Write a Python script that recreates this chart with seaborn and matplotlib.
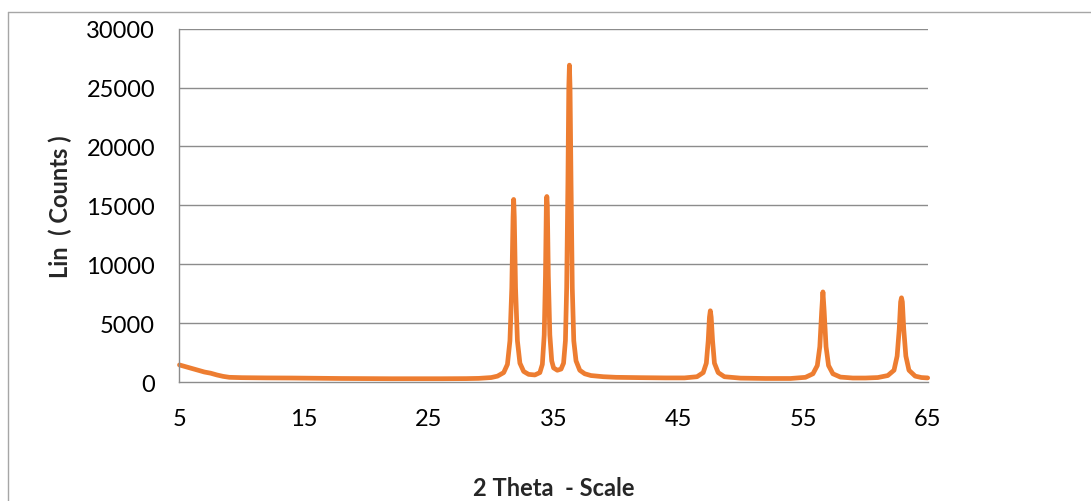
import matplotlib.pyplot as plt
import seaborn as sns
import pandas as pd
from matplotlib.lines import Line2D

sns.set_theme(style="white")
plt.rcParams['font.family'] = ['Lato', 'DejaVu Sans']

# XRD pattern: 2 theta (deg) and intensity (counts)
two_theta = [
    5.0, 5.5, 6.0, 6.5, 7.0, 7.5, 8.0, 8.5, 9.0, 10.0, 12.0, 14.0, 16.0, 18.0,
    20.0, 22.0, 24.0, 26.0, 28.0, 29.0, 30.0, 30.5, 31.0, 31.3, 31.5, 31.65,
    31.75, 31.8, 31.85, 31.95, 32.1, 32.3, 32.6, 33.0, 33.5, 33.9, 34.1, 34.25,
    34.35, 34.42, 34.46, 34.5, 34.58, 34.7, 34.85, 35.0, 35.3, 35.6, 35.8,
    35.95, 36.05, 36.15, 36.22, 36.27, 36.32, 36.4, 36.5, 36.62, 36.8, 37.1,
    37.5, 38.0, 39.0, 40.0, 42.0, 44.0, 45.5, 46.5, 47.0, 47.25, 47.4, 47.5,
    47.57, 47.64, 47.75, 47.9, 48.2, 48.7, 50.0, 52.0, 54.0, 55.2, 55.8, 56.15,
    56.35, 56.5, 56.6, 56.7, 56.85, 57.05, 57.4, 58.0, 59.0, 60.0, 61.0, 61.8,
    62.3, 62.55, 62.72, 62.83, 62.9, 62.97, 63.08, 63.25, 63.5, 64.0, 64.5, 65.0,
]
counts = [
    1450, 1300, 1150, 1000, 850, 750, 600, 480, 400, 370, 350, 340, 320, 300,
    290, 280, 280, 280, 290, 310, 380, 500, 800, 1500, 3500, 8000,
    14000, 15500, 14000, 8000, 3500, 1600, 900, 650, 600, 800, 1500, 4000,
    9000, 15000, 15750, 15000, 9000, 4000, 1800, 1200, 1000, 1100, 1600,
    3500, 8000, 17000, 25000, 26900, 25000, 17000, 8000, 3500, 1800, 1000,
    700, 550, 450, 400, 370, 350, 350, 450, 800, 1600, 3500, 5500,
    6050, 5500, 3500, 1600, 800, 450, 330, 300, 300, 400, 700, 1400,
    3000, 6000, 7650, 6000, 3000, 1400, 700, 420, 340, 340, 380, 550,
    1000, 2200, 4500, 6800, 7150, 6800, 4500, 2200, 1000, 500, 380, 350,
]
x_ticks = [5, 15, 25, 35, 45, 55, 65]
y_ticks = [0, 5000, 10000, 15000, 20000, 25000, 30000]

df = pd.DataFrame({'two_theta': two_theta, 'counts': counts})

fig = plt.figure(figsize=(10.91, 5.02), dpi=100)
ax = fig.add_axes([0.1645, 0.237, 0.8503 - 0.1645, 0.941 - 0.237])

sns.lineplot(data=df, x='two_theta', y='counts', color='#ED7D31',
             linewidth=3.4, ax=ax, clip_on=False)

ax.set_xlim(5, 65)
ax.set_ylim(0, 30000)
ax.set_xticks(x_ticks)
ax.set_yticks(y_ticks)
ax.set_xticklabels([str(t) for t in x_ticks])
ax.set_yticklabels([str(t) for t in y_ticks])

grey = '#8C8C8C'
for y in y_ticks[1:]:
    ax.axhline(y, color=grey, linewidth=1.0, zorder=0)
for side in ['top', 'right']:
    ax.spines[side].set_visible(False)
for side in ['left', 'bottom']:
    ax.spines[side].set_color(grey)
    ax.spines[side].set_linewidth(1.0)

ax.tick_params(axis='both', which='major', direction='out', length=6.5,
               width=1.0, color=grey, labelsize=17, labelcolor='black')
ax.tick_params(axis='y', pad=11)
ax.tick_params(axis='x', pad=12)

ax.set_xlabel('2 Theta  - Scale', fontsize=17, fontweight='bold', labelpad=34)
ax.set_ylabel('Lin  ( Counts )', fontsize=17, fontweight='bold', labelpad=10)

# outer chart frame (only top and left edges show)
fig.add_artist(Line2D([8 / 1091, 1.0], [1 - 13 / 502, 1 - 13 / 502],
                      transform=fig.transFigure, color='#A6A6A6', linewidth=1.0))
fig.add_artist(Line2D([8 / 1091, 8 / 1091], [0.0, 1 - 13 / 502],
                      transform=fig.transFigure, color='#A6A6A6', linewidth=1.0))

fig.savefig('out.png', dpi=100)
